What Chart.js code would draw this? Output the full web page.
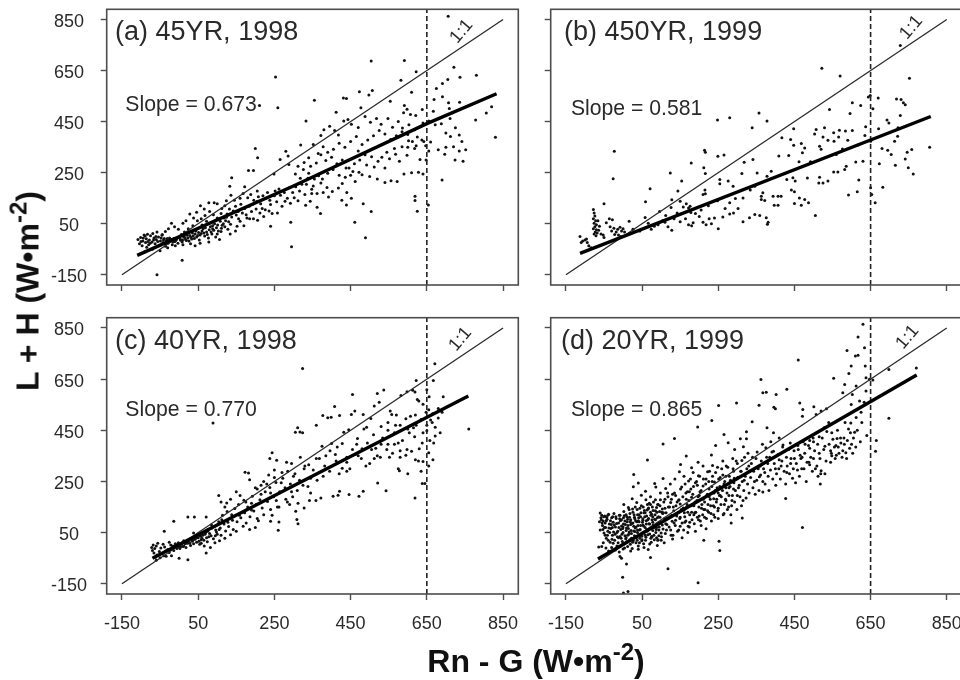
<!DOCTYPE html>
<html>
<head>
<meta charset="utf-8">
<title>L + H vs Rn - G</title>
<script src="https://cdn.jsdelivr.net/npm/chart.js@4"></script>
<style>
    html, body { margin: 0; padding: 0; background: #fff; width: 960px; height: 680px; overflow: hidden; }
    canvas { position: absolute; }
    .axis-title { position: absolute; font: bold 32px "Liberation Sans", Arial, sans-serif; color: #111; white-space: nowrap; }
    .axis-title sup { font-size: 24px; line-height: 0; }
    #ytitle { left: 28px; top: 291px; transform: translate(-50%, -50%) rotate(-90deg); }
    #xtitle { left: 536px; top: 661px; transform: translate(-50%, -50%); }
</style>
</head>
<body>
<canvas id="panel_a"></canvas>
<canvas id="panel_b"></canvas>
<canvas id="panel_c"></canvas>
<canvas id="panel_d"></canvas>
<div class="axis-title" id="ytitle">L + H (W•m<sup>-2</sup>)</div>
<div class="axis-title" id="xtitle">Rn - G (W•m<sup>-2</sup>)</div>
<script>
// valores
const tickValues = [-150, 50, 250, 450, 650, 850];
const axisMin = -190;
const axisMax = 890;
const dashedAt = 650;

const titles = ['(a) 45YR, 1998', '(b) 450YR, 1999', '(c) 40YR, 1998', '(d) 20YR, 1999'];
const slopes = ['Slope = 0.673', 'Slope = 0.581', 'Slope = 0.770', 'Slope = 0.865'];

const oneToOne = [[-150, -150], [850, 850]];
const fitA = [[-110, -74], [300, 198], [650, 442], [833, 559]];
const fitB = [[-113, -66], [808, 470]];
const fitC = [[-70, -50], [759, 584]];
const fitD = [[-66, -53], [771, 666]];

const panelA = [
[706,863],[504,687],[591,689],[253,625],[622,645],[721,663],[780,632],[737,624],[582,612],[705,615],[691,599],[675,580],[473,567],[507,572],[498,554],[610,565],[669,537],[691,547],[431,543],[439,541],[355,534],[211,513],[259,504],[707,524],[736,526],[709,501],[554,530],[477,504],[412,487],[591,513],[598,498],[589,485],[607,478],[621,474],[820,508],[806,484],[778,456],[638,497],[667,491],[333,452],[443,458],[830,389],
[489,-5],[295,-40],[-58,-150],[8,-93],[461,56],[504,98],[483,128],[619,158],[619,141],[625,99],[654,123],[690,221],[371,90],[362,115],[427,142],[439,123],[240,40],[293,56],[344,138],
[200,345],[206,308],[182,259],[195,259],[138,230],[133,197],[249,245],[265,302],[280,334],[286,315],[319,358],[288,282],
[380,418],[395,432],[408,415],[372,396],[418,398],[432,452],[452,440],[470,427],[488,470],[502,448],[518,462],[530,440],[548,462],[560,428],[575,450],[586,425],[603,438],[618,418],[640,445],[655,452],[672,438],[688,442],[711,462],[725,426],[700,405],[712,392],[735,398],[742,372],[700,350],[720,352],[735,335],[752,340],[724,300],[745,295],[697,322],[680,340],[660,370],[647,355],[637,378],[625,390],[612,372],[600,400],[585,410],[570,395],[555,380],[540,402],[525,415],[510,395],[495,378],[480,360],[465,392],[450,372],[435,350],[420,365],[405,342],[390,330],[378,352],[365,325],[352,360],[340,308],[328,290],[345,275],[360,288],[372,320],[385,298],[400,310],[414,285],[428,300],[446,268],[460,285],[472,252],[450,240],[436,232],[462,215],[428,208],[418,190],[402,176],[388,192],[372,210],[355,225],[340,248],[326,262],[312,275],[305,245],[318,228],[334,205],[348,185],[362,168],[378,172],[392,155],[440,172],[452,150],[480,242],[500,235],[520,225],[540,212],[556,218],[572,215],[590,245],[610,250],[628,252],[640,245],[598,318],[578,295],[600,350],[618,345],[632,302],[648,300],[655,335],[540,268],[522,295],[505,312],[488,320],[470,335],[545,330],[510,345],[565,345],
[120,120],[132,108],[145,142],[155,98],[168,168],[180,152],[192,125],[205,178],[218,110],[228,150],[240,125],[252,178],[266,162],[278,138],[290,192],[302,152],[316,178],[332,122],[348,168],[258,92],[212,92],[195,70],[176,85],[160,60],[148,22],[135,48],[124,75],[110,90],[100,128],[92,132],[78,132],[66,108],[56,120],[46,95],[38,72],[28,88],[18,62],[10,52],[72,60],[60,45],[88,30],[100,10],[110,20],[120,38],[134,10],[152,40],[170,42],[185,70],[206,64],[222,78],[236,100],[205,138],[188,165],[172,195],[160,150],[148,118],[136,162],[124,140],[112,110],[100,72],[90,85],[80,98],[68,82],[58,70],[48,62],[36,42],[24,30],[14,18],[6,8],[-2,28],[-12,38],[-20,52],[-28,30],[-36,20],[-44,8],
[-108,-12],[-104,-28],[-101,-4],[-97,-36],[-95,-18],[-92,6],[-88,-24],[-86,-9],[-83,9],[-80,-32],[-78,-14],[-75,3],[-71,-22],[-69,12],[-66,-6],[-63,-28],[-60,-12],[-58,18],[-54,-2],[-52,-34],[-49,-18],[-45,5],[-42,-24],[-39,-8],[-36,-38],[-33,-15],[-29,-26],[-25,-6],[-22,-18],[-18,-32],[-14,-8],[-11,-20],[-7,-12],[-3,-26],[1,-4],[4,-15],[8,-22],[12,-2],[17,-12],[21,5],[26,-18],[31,-3],[35,14],[40,-8],[44,22],[49,4],[53,-14],[58,12],[63,30],[67,2],[72,18],[77,-6],[82,38],[86,10],[91,24],[96,-2],[101,45],[106,-12],[111,32],[116,50],[122,62],[128,28],[-85,-42],[-70,-50],[-50,-56],[-30,-44],[-10,-36],[10,-32],[30,-28],[55,-26],[-90,-60],[78,-22],[42,-36],
[-100,-20],[-94,-6],[-89,2],[-82,-20],[-76,-26],[-67,-14],[-61,0],[-56,-20],[-47,-6],[-41,-14],[-35,-28],[-31,-8],[-27,-16],[-20,-12],[-16,-22],[-9,-16],[-5,-6],[3,-10],[9,-14],[15,-4],[19,-16],[23,-6],[28,4],[33,-10],[37,2],[42,10],[46,-2],[51,16],[55,6],[60,22],[65,14],[69,34],[74,8],[79,26],[84,18],[88,42],[93,50],[98,34],[103,22],[108,60],[113,44],[118,72],[126,88],[130,58],[138,76],[142,100],[150,84],[156,70],[162,126],[166,92],[172,110],[178,72],[184,118],[190,98],[196,142],[202,108],[208,156],[214,128],[220,160],[226,105],[232,172],[238,142],[244,90],[250,160],[256,136],[262,186],[270,118],[276,172],[284,150],[292,130],[298,172],[306,195],[312,140],[322,205],[330,165],[338,228],[352,198],[366,238],[376,225],[390,248],[404,262],[420,240],[438,268],[456,255],[474,300],[492,280],[512,272],[532,310],[552,305],[568,322],[585,352],[602,375],[622,355],[642,372]
];

const panelB = [
[522,659],[570,629],[752,620],[728,748],[718,539],[730,537],[736,524],[741,516],[644,546],[649,552],[670,543],[602,524],[624,513],[656,500],[596,482],[542,497],[728,474],[693,456],[698,445],[357,484],[280,465],[248,456],[378,452],[339,426],[448,422],[529,426],[507,419],[503,402],[553,406],[568,416],[584,413],[602,415],[637,430],[635,396],[671,422],[722,426],[721,393],[713,373],[417,387],[440,380],[448,357],[468,364],[477,347],[471,328],[525,390],[516,354],[520,342],[538,377],[566,390],[554,373],[590,377],[576,343],[560,321],[617,358],[650,373],[680,345],[695,338],[704,321],[673,285],[715,279],[741,304],[746,330],[758,341],[805,350],[749,269],[762,245],
[630,295],[611,292],[586,275],[582,262],[564,253],[553,253],[538,217],[525,210],[514,210],[516,232],[619,221],[615,175],[592,163],[682,193],[653,165],[662,132],[650,191],
[505,82],[409,315],[435,317],[462,293],[492,293],[484,229],[446,230],[452,217],[430,223],[442,182],[450,175],[463,151],[477,145],[487,132],[450,129],[468,122],[407,158],[415,158],[394,158],[397,122],[407,122],[367,171],[363,158],[363,145],[372,141],[389,256],[378,236],[352,249],[341,302],[318,291],[312,247],[346,197],[334,182],[315,151],[295,149],[280,132],[302,110],[315,58],[332,73],[346,86],[359,82],[376,73],[381,56],[379,48],[254,223],[254,207],[276,217],[289,197],[249,314],[265,319],[214,338],[216,330],[179,288],[212,269],[216,247],[124,249],[154,217],[144,178],[215,182],[216,167],[210,165],[71,187],[59,136],[-23,334],[-26,226],[-50,128],
[-78,106],[-76,92],[-74,80],[-78,70],[-72,62],[-76,52],[-70,46],[-74,38],[-78,30],[-70,26],[-73,18],[-68,14],[-76,10],[-71,3],[-64,24],[-62,40],[-66,62],[-58,10],[-52,6],[-44,54],[-36,70],[-28,66],[-34,38],[-30,22],[-24,32],[-18,18],[-22,8],[-14,28],[-8,36],[-4,22],[0,30],[4,18],[-12,6],[-6,0],[-113,0],[-106,-18],[-100,-14],[-110,-24],[-96,-10],[-90,-36],[-94,-24],[-84,-44],[-50,-4],
[16,60],[26,28],[34,20],[44,22],[58,74],[66,52],[74,28],[82,40],[92,46],[104,62],[110,56],[118,38],[128,24],[134,70],[142,92],[150,58],[158,116],[164,70],[172,112],[178,94],[172,46],[180,42],[184,54],[126,114],[112,82],[96,98],[190,90],[200,78],[210,56],[218,46],[226,70],[240,72],[250,30],[232,50],[262,76],[280,88],[205,104],[248,140],[268,110],[224,120],[290,92],[128,144],[150,138],[166,128],[176,118]
];

const panelC = [
[324,691],[89,478],[455,590],[520,594],[537,607],[525,560],[512,545],[622,645],[667,645],[671,710],[598,601],[613,606],[582,586],[693,581],[656,581],[625,570],[629,564],[408,543],[461,525],[452,512],[421,508],[483,512],[377,508],[390,499],[399,501],[503,496],[554,525],[558,512],[607,505],[619,600],[650,608],[640,552],[655,530],[665,515],[680,498],
[619,185],[638,242],[645,242],[543,214],[521,244],[483,212],[472,192],[446,199],[421,212],[417,196],[404,192],[372,185],[359,175],[342,175],[328,146],[312,165],[306,133],[309,101],[312,85],[262,91],[260,59],[240,94],[244,362],[238,340],[256,333],[282,325],[311,460],[317,443],[324,440],[305,442],[182,283],[173,286],[185,257],[104,195],[125,166],[-39,55],[-14,94],[23,111],[40,111],[71,111],[71,-30],[23,-56],[0,-50],[760,455],
[664,480],[672,462],[685,440],[672,428],[658,410],[668,400],[655,362],[666,335],[655,310],[640,328],[628,330],[620,335],[635,290],[578,292],[575,300],[600,280],[580,345],[595,352],[560,360],[545,375],[528,345],[512,340],[500,320],[490,310],[470,350],[455,375],[440,325],[428,302],[440,290],[420,280],[395,290],[378,270],[362,255],[345,262],[328,300],[300,270],[285,290],[268,245],[250,295],[235,275],[222,250],[215,235],[205,220],
[360,470],[375,388],[400,398],[415,385],[432,442],[445,452],[468,418],[485,455],[492,462],[510,432],[530,465],[548,450],[565,440],[580,470],[600,455],[618,425],[640,440],[635,492],[620,510],[595,495],[570,510],[548,480],[530,395],[548,395],[565,395],[580,370],[598,375],[610,368],[630,378],[650,448],[660,490],[680,535],[690,520],[650,470],[615,460],[575,400],[520,350],[505,375],[480,378],[462,355],[440,345],[410,355],[385,350],[360,340],[340,315],[318,345],[295,320],[270,285],[250,265],[230,240],[215,200],[200,225],[190,165],[175,170],[160,195],[150,210],[135,180],[120,150],[110,170],[295,210],[280,180],[255,175],[240,205],[310,215],[325,235],[345,205],[290,160],[262,150],[240,140],[222,120],[205,105],[190,138],[172,128],[158,118],[140,98],[128,90],[112,100],[200,70],[185,62],[168,75],[150,55],[135,42],[120,28],[105,62],[95,38],[85,80],[75,55],[65,20],[58,8],[48,32],[38,48],[30,25],[20,10],[12,18],[4,-5],[-6,-12],[-16,-2],[-26,12],[-36,-22],
[-72,-8],[-68,2],[-70,-20],[-66,-30],[-64,-12],[-60,-2],[-58,-38],[-56,8],[-52,-24],[-48,-10],[-44,-32],[-42,4],[-38,-6],[-34,-42],[-30,-16],[-26,-28],[-22,2],[-18,-8],[-14,-20],[-10,6],[-6,-2],[-2,10],[2,-12],[6,4],[10,-4],[14,12],[18,-8],[22,8],[26,20],[30,0],[34,16],[38,6],[42,24],[46,12],[50,30],[54,4],[58,22],[62,40],[66,-2],[70,50],[74,14],[78,34],[82,-8],[86,68],[90,26],[94,10],[98,52],[102,82],[106,18],[110,40],[-60,-58],[-50,-48],[-40,-40],[-62,-46],[-20,-40],
[-12,-6],[-4,4],[0,-6],[8,10],[12,-2],[16,6],[24,14],[28,8],[32,26],[36,20],[44,30],[52,16],[56,36],[60,28],[68,44],[72,30],[76,62],[80,46],[84,38],[92,74],[96,60],[100,44],[104,92],[108,68],[114,118],[118,84],[122,56],[126,132],[130,74],[138,120],[142,62],[146,144],[152,92],[156,160],[162,108],[166,130],[170,176],[176,88],[180,150],[186,112],[192,192],[196,134],[202,160],[208,96],[212,178],[218,146],[226,210],[232,172],[238,226],[244,118],[248,190],[254,246],[258,150],[264,210],[272,262],[278,225],[284,170],[292,240],[298,190],[304,280],[316,255],[330,310],[338,230],[352,295],[368,340],[382,310],[396,370],[412,330],[428,398],[448,300],[466,395],[478,340],[494,400],[516,380],[534,420],[552,345],[568,470],[586,410],[604,440],[622,470],[638,400],[648,520]
];

const panelD = [
[630,864],[617,815],[634,773],[588,762],[610,740],[617,743],[460,725],[698,688],[770,693],[599,701],[593,672],[553,653],[362,648],[367,597],[376,599],[402,590],[430,610],[636,701],[638,655],[647,649],[656,646],[582,629],[612,623],[638,603],[577,597],[602,590],[621,564],[599,551],[464,557],[357,548],[396,540],[400,534],[251,547],[298,557],[233,488],[196,463],[698,497],[665,410],[663,368],[472,531],[501,542],[471,505],[534,534],[520,525],[507,512],[339,483],[378,460],[324,444],[308,417],[324,417],[265,433],[105,396],[135,418],[64,334],[28,277],[40,244],[27,229],[59,212],[83,242],[105,261],[166,349],[151,316],[243,390],[276,401],[293,375],[316,386],[232,353],[197,325],[180,303],[471,70],[518,240],[427,183],[367,209],[313,107],[284,88],[252,16],[254,-20],[212,20],[118,-91],[197,-146],[72,-47],[-4,-50],[-8,-43],[9,-73],[-1,-125],[1,-186],[13,-180],[-56,-4],[-64,-6],
[625,520],[612,500],[598,478],[608,442],[592,455],[580,420],[572,400],[562,418],[555,385],[548,440],[540,480],[528,460],[515,425],[500,405],[490,380],[478,395],[465,352],[450,340],[435,375],[420,392],[410,420],[395,440],[388,405],[375,382],[366,395],[352,365],[340,345],[328,360],[312,332],[300,320],[288,340],[275,305],[262,330],[248,305],[235,312],[222,288],[210,310],[198,272],[184,285],[172,252],[160,270],[148,288],[136,260],[124,240],[112,222],[98,205],[86,228],[72,190],[60,178],[48,196],[36,168],[24,182],[14,148],[2,160],
[560,352],[545,370],[530,388],[515,360],[500,340],[488,325],[505,300],[520,292],[530,280],[512,270],[490,315],[475,300],[458,295],[445,262],[430,285],[415,310],[400,300],[385,345],[372,285],[358,268],[345,250],[332,290],[318,255],[305,235],[292,262],[278,225],[265,240],[250,205],[238,182],[226,220],[214,170],[200,195],[186,155],[174,210],[160,138],[146,176],[132,150],[118,190],[104,125],[92,160],[78,112],[66,142],[52,98],[38,120],[26,88],[12,102],[0,72],[470,345],[490,410],[548,350],[565,385],[585,362],[600,395],[575,345],[545,325],[440,320],[460,375],[410,335],[395,368],[380,320],[360,310],[330,310],[310,290],[290,290],[270,270],[255,265],[240,248],[225,250],[210,232],[195,235],[180,188],[165,205],[150,162],[138,195],[125,168],[110,145],[98,178],[85,135],[72,160],[58,128],[44,145],[30,110],[18,125],[5,95],[-8,118],
[240,150],[225,130],[212,140],[200,115],[188,128],[175,90],[162,112],[150,75],[138,98],[125,60],[112,85],[100,48],[88,70],[75,35],[62,62],[50,22],[38,50],[25,12],[12,40],[0,5],[-12,30],[250,105],[265,125],[232,95],[218,65],[205,78],[190,55],[170,50],[155,30],[130,25],[108,10],[92,22],[70,5],[55,-8],[40,-15],[20,-22],[270,175],[285,155],[300,195],[315,175],[255,195],[180,130],[168,160],[145,130],[128,118],[115,105],[102,130],[90,108],[78,90],[65,100],[54,76],[42,92],[32,68],[20,82],[8,58],[-4,76],[-16,50],[-28,70],
[-60,127],[-58,108],[-62,92],[-56,118],[-54,78],[-60,60],[-52,95],[-50,48],[-48,115],[-46,70],[-44,28],[-42,102],[-40,55],[-38,122],[-36,84],[-34,12],[-32,66],[-30,108],[-28,40],[-26,90],[-24,125],[-22,20],[-20,72],[-18,105],[-16,-2],[-14,55],[-12,88],[-10,118],[-8,35],[-6,62],[-4,100],[-2,15],[0,50],[2,132],[4,-10],[6,82],[8,30],[10,112],[12,-4],[14,66],[16,140],[18,22],[20,100],[22,46],[24,-12],[26,130],[28,75],[30,38],[32,150],[34,10],[36,92],[38,60],[40,-2],[42,120],[44,28],[46,78],[48,155],[50,48],[52,104],[54,6],[56,136],[58,70],[60,32],[62,115],[64,160],[66,-16],[68,85],[70,45],[72,130],[74,12],[76,100],[78,58],[80,170],[82,22],[84,120],[86,50],[88,148],[90,0],[92,88],[94,38],[96,132],[-52,10],[-45,-10],[-38,-22],[-30,-8],[-20,-18],[-10,-26],[0,-14],
[-57,100],[-53,62],[-47,88],[-43,110],[-41,40],[-37,68],[-33,96],[-29,24],[-25,52],[-23,80],[-19,112],[-15,34],[-11,70],[-7,96],[-3,44],[1,84],[3,116],[7,26],[9,68],[11,92],[15,44],[17,110],[19,4],[21,58],[23,86],[27,18],[29,120],[31,54],[33,96],[35,30],[37,140],[39,78],[41,108],[43,10],[45,62],[47,128],[49,36],[51,90],[53,150],[55,52],[57,112],[59,20],[61,84],[63,138],[65,42],[67,105],[69,165],[71,68],[73,28],[75,122],[77,150],[79,80],[81,40],[83,102],[85,178],[87,62],[89,130],[91,20],[93,112],[95,72],[97,155],[99,90],[101,34],[103,142],[105,64],[107,170],[109,105],[111,46],[113,128],[115,82],[117,205],[119,150],[121,72],[123,112],[127,180],[129,94],[131,40],[133,135],[135,205],[137,78],[139,155],[141,115],[143,55],[147,178],[149,105],[151,220],[153,140],[155,88],[157,190],[159,60],[161,128],[163,240],[165,95],[167,150],[169,210],[171,75],[173,175],[175,120],[177,260],[179,155],[181,100],[183,200],[185,230],[187,85],[189,170],[191,130],[193,250],[195,110],[197,190],[199,150],[201,270],[203,95],[205,215],[207,160],[209,120],[211,260],[213,185],[215,140],[217,240],[219,105],[221,200],[223,160],[227,290],[229,180],[231,125],[233,230],[235,270],[237,155],[239,205],[241,110],[243,285],[245,170],[247,225],[249,135],[251,260],[253,195],[257,160],[259,300],[261,215],[263,120],[267,250],[269,180],[271,310],[273,205],[277,150],[279,270],[281,230],[283,120],[287,195],[289,300],[291,245],[293,170],[295,215],[297,330],[299,140],[301,265],[303,225],[307,190],[309,290],[311,155],[313,250],[317,215],[319,345],[321,270],[323,185],[325,300],[327,240],[331,205],[335,265],[337,320],[341,225],[343,290],[347,200],[349,340],[351,255],[355,300],[357,215],[361,275],[363,330],[367,250],[369,300],[373,240],[377,345],[381,270],[383,215],[387,295],[391,365],[393,260],[397,320],[401,235],[403,280],[407,355],[409,300],[413,260],[417,330],[419,385],[423,290],[427,240],[429,345],[431,310],[437,280],[439,400],[441,340],[447,300],[449,370],[453,245],[455,320],[459,390],[463,270],[467,340],[469,300],[473,405],[477,360],[481,250],[483,325],[487,390],[493,345],[497,290],[499,420],[503,370],[509,310],[511,395],[517,340],[519,280],[523,420],[527,375],[533,330],[535,445],[541,395],[547,360],[551,415],[557,340],[559,390],[563,450],[567,360],[571,420],[577,370],[581,395],[583,480],[587,340],[589,410],[595,380],[597,440],[603,360],[605,420],[611,385],[615,450],[623,405],[627,480],[633,560],[640,430],
[-55,88],[-51,112],[-49,70],[-47,40],[-44,96],[-40,118],[-39,20],[-35,50],[-31,82],[-27,112],[-26,8],[-21,44],[-17,86],[-13,10],[-9,104],[-5,28],[-1,66],[1,108],[5,38],[8,120],[10,14],[13,78],[16,52],[19,92],[22,28],[25,142],[28,56],[31,104],[34,72],[37,20],[40,96],[43,60],[46,112],[49,18],[52,80],[55,128],[58,40],[61,96],[64,56],[67,146],[70,84],[73,118],[76,34],[79,136],[82,70],[85,100],[88,30],[91,160],[94,60],[97,110],[100,20],[103,80],[106,128],[110,180],[114,60],[118,108],[122,150],[126,40],[130,200],[134,88],[138,122],[142,170],[146,60],[150,110],[154,228],[158,146],[162,90],[166,180],[170,130],[174,72],[178,220],[182,160],[186,120],[190,245],[194,175],[198,100],[202,210],[206,145],[210,180],[214,110],[218,260],[222,135],[226,190],[230,155],[234,250],[238,120],[242,215],[246,180],[250,145],[254,230],[258,190],[262,275],[266,160],[270,225],[274,140],[278,195],[282,255],[286,175],[290,220]
];

const panelData = [panelA, panelB, panelC, panelD];
const fits = [fitA, fitB, fitC, fitD];

// caixa de cada painel (px)
const boxes = [
    { left: 0,   top: 0,   width: 530, height: 300, plotLeft: 106.7, plotTop: 9.3, plotRight: 518.3, plotBottom: 285, xLabels: false, yLabels: true },
    { left: 530, top: 0,   width: 440, height: 300, plotLeft: 20.7, plotTop: 9.3,  plotRight: 432, plotBottom: 285, xLabels: false, yLabels: false },
    { left: 0,   top: 310, width: 530, height: 370, plotLeft: 106.7, plotTop: 7.7, plotRight: 518.3, plotBottom: 284, xLabels: true, yLabels: true },
    { left: 530, top: 310, width: 440, height: 370, plotLeft: 20.7, plotTop: 7.7,  plotRight: 432, plotBottom: 284, xLabels: true, yLabels: false }
];

// posicao dos textos, em unidades dos eixos
const textSpots = [
    { title: [-168, 771], slope: [-141, 490], unit: [741, 803] },
    { title: [-155, 771], slope: [-137, 475], unit: [757, 819] },
    { title: [-168, 766], slope: [-141, 505], unit: [738, 806] },
    { title: [-163, 766], slope: [-137, 505], unit: [747, 814] }
];

const textPlugin = {
    id: 'panelText',
    afterDraw(chart, args, opts) {
        const { ctx, chartArea, scales } = chart;
        const px = p => [scales.x.getPixelForValue(p[0]), scales.y.getPixelForValue(p[1])];
        ctx.save();
        ctx.strokeStyle = '#4d4d4d';
        ctx.lineWidth = 1.6;
        ctx.strokeRect(chartArea.left, chartArea.top, chartArea.right - chartArea.left, chartArea.bottom - chartArea.top);

        ctx.fillStyle = '#2a2a2a';
        ctx.textBaseline = 'alphabetic';
        ctx.textAlign = 'left';
        ctx.font = '27px "Liberation Sans", Arial, sans-serif';
        ctx.fillText(opts.title, ...px(opts.spots.title));
        ctx.font = '21.2px "Liberation Sans", Arial, sans-serif';
        ctx.fillText(opts.slope, ...px(opts.spots.slope));

        const [ux, uy] = px(opts.spots.unit);
        ctx.translate(ux, uy);
        ctx.rotate(-50 * Math.PI / 180);
        ctx.textAlign = 'center';
        ctx.textBaseline = 'middle';
        ctx.font = '18px "Liberation Sans", Arial, sans-serif';
        ctx.fillText('1:1', 0, 0);
        ctx.restore();
    }
};

const useTicks = scale => { scale.ticks = tickValues.map(value => ({ value })); };

// sem isso os rotulos empurram a area do grafico
const noLabelPadding = s => { s.paddingLeft = 0; s.paddingRight = 0; s.paddingTop = 0; s.paddingBottom = 0; };

function axisOptions(box, showLabels, fit) {
    return {
        type: 'linear',
        min: axisMin,
        max: axisMax,
        afterBuildTicks: useTicks,
        afterFit: s => { fit(s); noLabelPadding(s); },
        border: { display: false },
        grid: { drawOnChartArea: false, drawTicks: true, tickLength: 6, tickColor: '#4d4d4d', tickWidth: 1.4 },
        ticks: {
            display: showLabels,
            autoSkip: false,
            maxRotation: 0,
            color: '#2a2a2a',
            font: { family: '"Liberation Sans", Arial, sans-serif', size: 18 },
            callback: value => String(value)
        }
    };
}

boxes.forEach((box, i) => {
    const canvas = document.getElementById('panel_' + 'abcd'[i]);
    canvas.style.left = box.left + 'px';
    canvas.style.top = box.top + 'px';
    canvas.width = box.width;
    canvas.height = box.height;

    const xAxis = axisOptions(box, box.xLabels, s => { s.height = box.height - box.plotBottom; });
    xAxis.ticks.padding = 13;
    const yAxis = axisOptions(box, box.yLabels, s => { s.width = box.plotLeft; });
    yAxis.ticks.padding = 13.7;
    yAxis.ticks.crossAlign = 'center';
    yAxis.ticks.labelOffset = 2.5;

    new Chart(canvas, {
        type: 'scatter',
        data: {
            datasets: [
                { data: fits[i].map(p => ({ x: p[0], y: p[1] })), showLine: true, borderColor: '#000', borderWidth: 3.4, pointRadius: 0, order: 1 },
                { data: oneToOne.map(p => ({ x: p[0], y: p[1] })), showLine: true, borderColor: '#2a2a2a', borderWidth: 1.3, pointRadius: 0, order: 2 },
                { data: [{ x: dashedAt, y: axisMin }, { x: dashedAt, y: axisMax }], showLine: true, borderColor: '#222', borderWidth: 1.6, borderDash: [5, 3], pointRadius: 0, order: 3 },
                { data: panelData[i].map(p => ({ x: p[0], y: p[1] })), showLine: false, backgroundColor: '#111', borderWidth: 0, pointRadius: 1.5, order: 4 }
            ]
        },
        options: {
            responsive: false,
            animation: false,
            layout: { padding: { top: box.plotTop, right: box.width - box.plotRight, left: 0, bottom: 0 } },
            plugins: {
                legend: { display: false },
                tooltip: { enabled: false },
                panelText: { title: titles[i], slope: slopes[i], spots: textSpots[i] }
            },
            scales: { x: xAxis, y: yAxis }
        },
        plugins: [textPlugin]
    });
});
</script>
</body>
</html>
